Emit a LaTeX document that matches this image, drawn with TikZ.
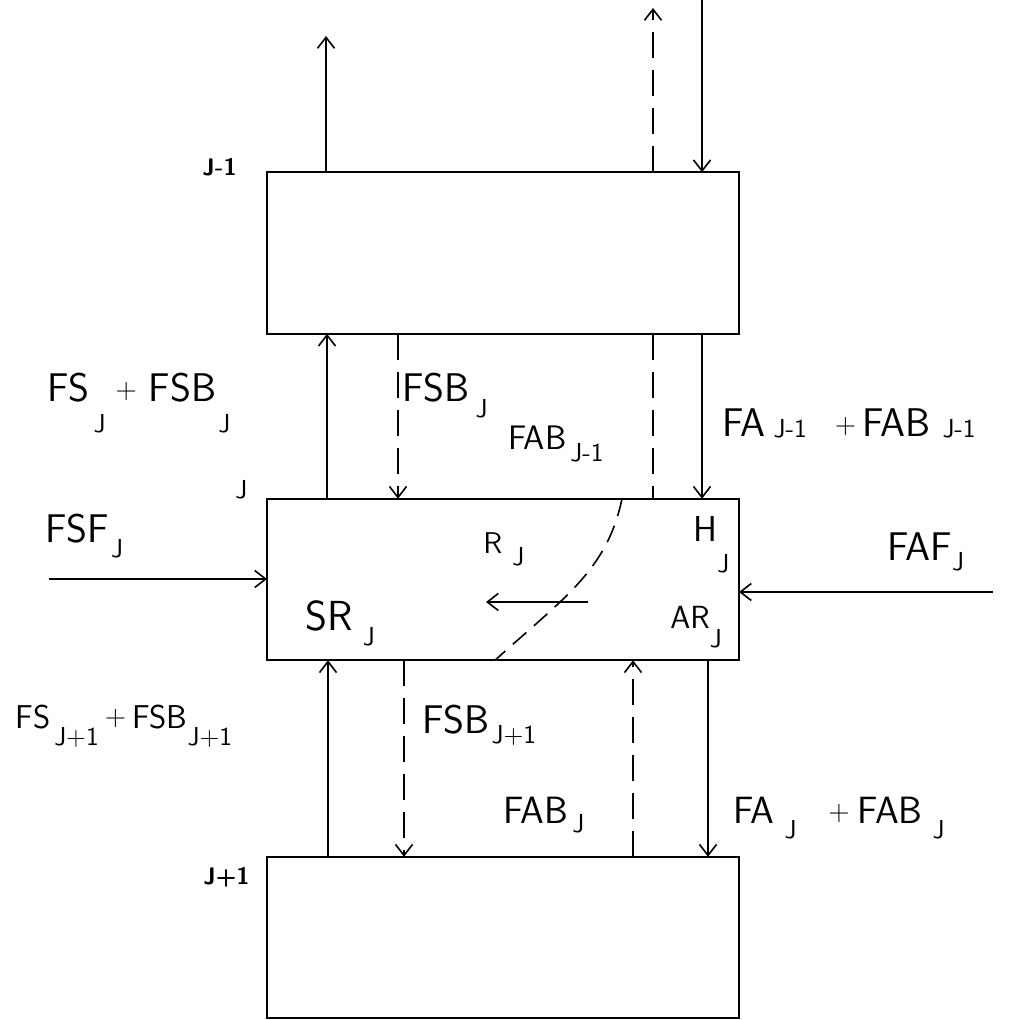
\documentclass[tikz,border=0pt]{standalone}
\usepackage{tikz}
\usetikzlibrary{arrows.meta, positioning, calc}
\renewcommand{\familydefault}{\sfdefault}
% lowered index and small plus sign
\newcommand{\lowix}[2]{\raisebox{#1}{\fontsize{13}{13}\selectfont #2}}
\newcommand{\pl}{\raisebox{1.5pt}{\fontsize{14}{14}\selectfont +}}

\begin{document}
\begin{tikzpicture}[x=0.5pt, y=-0.5pt,
    cell/.style={draw, line width=0.9pt, minimum width=236pt, minimum height=80.75pt,
        inner sep=0pt, outer sep=0pt},
    flow/.style={line width=0.8pt, -{Straight Barb[length=5.5pt, width=8.5pt]}},
    bypass/.style={flow, dash pattern=on 13pt off 6pt},
    front/.style={line width=0.8pt, dash pattern=on 9pt off 5pt},
    lbl/.style={anchor=base west, inner sep=0pt},
    tag/.style={anchor=base west, inner sep=0pt, font=\fontsize{12}{12}\selectfont\bfseries}]
    \useasboundingbox (0,0) rectangle (1021,1020);

    % stadi
    \node[cell] (up) at (503,253) {};
    \node[cell] (mid) at (503,579.5) {};
    \node[cell] (low) at (503,937.5) {};
    \node[tag] (tagup) at (202,176) {J-1};
    \node[tag, font=\fontsize{13}{13}\selectfont] (tagmid) at (235,499) {J};
    \node[tag] (taglow) at (203,884) {J+1};

    % correnti sopra lo stadio J-1
    \coordinate (outS) at (326,36);
    \coordinate (outB) at (653,8);
    \coordinate (inA) at (702,0);
    \draw[flow] (up.north -| outS) -- (outS);
    \draw[bypass] (up.north -| outB) -- (outB);
    \draw[flow] (inA) -- (up.north -| inA);

    % correnti tra J-1 e J
    \draw[flow] ($(mid.north west)+(60,0)$) -- ($(up.south west)+(60,0)$);
    \draw[bypass] ($(up.south west)+(131,0)$) -- ($(mid.north west)+(131,0)$);
    \draw[bypass, -] ($(up.south west)+(386,0)$) -- ($(mid.north west)+(386,0)$);
    \draw[flow] ($(up.south west)+(435,0)$) -- ($(mid.north west)+(435,0)$);

    % correnti tra J e J+1
    \draw[flow] ($(low.north west)+(61,0)$) -- ($(mid.south west)+(61,0)$);
    \draw[bypass] ($(mid.south west)+(137,0)$) -- ($(low.north west)+(137,0)$);
    \draw[bypass] ($(low.north west)+(366,0)$) -- ($(mid.south west)+(366,0)$);
    \draw[flow] ($(mid.south west)+(441,0)$) -- ($(low.north west)+(441,0)$);

    % alimentazioni laterali
    \coordinate (inSF) at (49,579);
    \coordinate (inAF) at (993,592);
    \draw[flow] (inSF) -- (inSF -| mid.west);
    \draw[flow] (inAF) -- (inAF -| mid.east);

    % fronte di reazione
    \coordinate (rfrom) at (588,602);
    \coordinate (rto) at (486,602);
    \draw[flow] (rfrom) -- (rto);
    \draw[front] ($(mid.north west)+(355,0)$) .. controls (607,570) and (565,597) .. ($(mid.south west)+(228,0)$);

    % etichette
    \node[lbl, font=\fontsize{20}{20}\selectfont] (fsj) at (47,402)
        {FS\hspace{2pt}\lowix{-15.5pt}{J}\hspace{5pt}\pl\hspace{6pt}FSB\hspace{1pt}\lowix{-15.5pt}{J}};
    \node[lbl, font=\fontsize{20}{20}\selectfont] (fsbj) at (402,402)
        {FSB\hspace{3pt}\lowix{-8pt}{J}};
    \node[lbl, font=\fontsize{17}{17}\selectfont] (fabup) at (508,450)
        {FAB\hspace{2pt}\lowix{-6pt}{J-1}};
    \node[lbl, font=\fontsize{20}{20}\selectfont] (faup) at (722,437)
        {FA\hspace{4pt}\lowix{-0.5pt}{J-1}\hspace{14pt}\pl\hspace{3pt}FAB\hspace{6pt}\lowix{-0.5pt}{J-1}};
    \node[lbl, font=\fontsize{20}{20}\selectfont] (fsf) at (45,543)
        {FSF\hspace{1pt}\lowix{-7.5pt}{J}};
    \node[lbl, font=\fontsize{15}{15}\selectfont] (rj) at (483,553)
        {R\hspace{5pt}\lowix{-6pt}{J}};
    \node[lbl, font=\fontsize{18}{18}\selectfont] (hj) at (693,542)
        {H\lowix{-15pt}{J}};
    \node[lbl, font=\fontsize{16}{16}\selectfont] (arj) at (670,628)
        {AR\lowix{-9.5pt}{J}};
    \node[lbl, font=\fontsize{21}{21}\selectfont] (srj) at (305,630)
        {SR\hspace{5pt}\lowix{-7.5pt}{J}};
    \node[lbl, font=\fontsize{20}{20}\selectfont] (faf) at (887,560)
        {FAF\lowix{-5pt}{J}};
    \node[lbl, font=\fontsize{16.5}{16.5}\selectfont] (fslow) at (15,728)
        {FS\hspace{2pt}\lowix{-8.5pt}{J+1}\hspace{3pt}\pl\hspace{3pt}FSB\lowix{-8.5pt}{J+1}};
    \node[lbl, font=\fontsize{20}{20}\selectfont] (fsblow) at (422,733)
        {FSB\hspace{1pt}\lowix{-5pt}{J+1}};
    \node[lbl, font=\fontsize{19}{19}\selectfont] (fabj) at (503,823)
        {FAB\hspace{2pt}\lowix{-4.5pt}{J}};
    \node[lbl, font=\fontsize{19}{19}\selectfont] (faj) at (733,823)
        {FA\hspace{5pt}\lowix{-7.5pt}{J}\hspace{16pt}\pl\hspace{4pt}FAB\hspace{5pt}\lowix{-7.5pt}{J}};
\end{tikzpicture}
\end{document}
